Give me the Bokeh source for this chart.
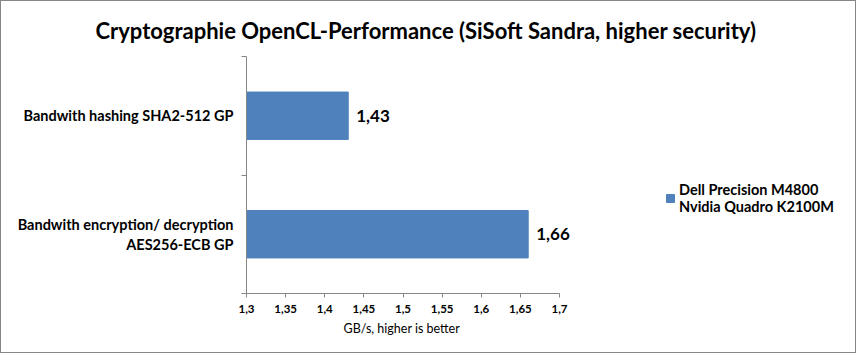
from bokeh.plotting import figure
from bokeh.models import (Range1d, FixedTicker, CustomJSTickFormatter, LabelSet,
                          ColumnDataSource, Legend, LegendItem, LinearAxis, Title)
from bokeh.core.properties import value
from bokeh.embed import file_html
from bokeh.resources import INLINE

title = "Cryptographie OpenCL-Performance (SiSoft Sandra, higher security)"
categories = ["Bandwith hashing SHA2-512 GP", "Bandwith encryption/ decryption\nAES256-ECB GP"]
values = [1.43, 1.66]
value_labels = ["1,43", "1,66"]
series_name = "Dell Precision M4800\nNvidia Quadro K2100M"
x_min, x_max, x_step = 1.3, 1.7, 0.05
x_title = "GB/s, higher is better"

BAR = "#4F81BD"
GRAY = "#868686"
FONT = "Lato"

W, H = 856, 353
LEFT, RIGHT, TOP, BOTTOM = 245, 2, 54, 61
AXIS_PX = 313  # pixel length of the drawn value axis
frame_w = W - LEFT - RIGHT
x_end = x_min + (x_max - x_min) * frame_w / AXIS_PX

n = len(categories)
ypos = [i + 0.5 for i in range(n)]
xticks = [round(x_min + k * x_step, 2) for k in range(int(round((x_max - x_min) / x_step)) + 1)]

p = figure(width=W, height=H, output_backend="svg", toolbar_location=None,
           x_range=Range1d(x_min, x_end), y_range=Range1d(n, 0),
           y_axis_location=None,
           min_border_left=LEFT, min_border_right=RIGHT, min_border_top=TOP, min_border_bottom=BOTTOM)
p.styles = {"border": f"1px solid {GRAY}"}
p.outline_line_color = None
p.grid.visible = False
p.background_fill_color = "white"
p.border_fill_color = "white"

src = ColumnDataSource(dict(y=ypos, right=values, lab=value_labels))
r = p.hbar(y="y", right="right", left=x_min, height=0.4, color=BAR, source=src)

p.add_layout(LabelSet(x="right", y="y", text="lab", source=src, x_offset=8,
                      text_baseline="middle", text_font=value(FONT), text_font_style="bold",
                      text_font_size="17px", text_color="black"))

# x axis
xa = p.xaxis[0]
xa.bounds = (x_min, x_max)
xa.ticker = FixedTicker(ticks=xticks)
xa.formatter = CustomJSTickFormatter(code="return tick.toFixed(2).replace(/0+$/,'').replace(/\\.$/,'').replace('.',',');")
xa.axis_line_color = GRAY
xa.major_tick_line_color = GRAY
xa.major_tick_out = 4
xa.major_tick_in = 0
xa.minor_tick_line_color = None
xa.major_label_text_font = FONT
xa.major_label_text_font_style = "bold"
xa.major_label_text_font_size = "11.5px"
xa.major_label_text_color = "black"
xa.major_label_standoff = 7

# x axis title under the drawn axis
p.add_layout(Title(text=x_title, align="left", offset=97,
                   text_font=FONT, text_font_style="normal", text_font_size="12.5px",
                   text_color="black", standoff=6), "below")

# y axis: boundary ticks (no labels)
ta = LinearAxis(ticker=FixedTicker(ticks=list(range(n + 1))),
                major_label_overrides={k: "" for k in range(n + 1)})
ta.axis_line_color = GRAY
ta.major_tick_line_color = GRAY
ta.major_tick_out = 5
ta.major_tick_in = 0
ta.minor_tick_line_color = None
ta.major_label_text_color = None
ta.major_label_standoff = 0
p.add_layout(ta, "left")

# y axis: category labels at category centres
ca = LinearAxis(ticker=FixedTicker(ticks=ypos),
                major_label_overrides={y: c for y, c in zip(ypos, categories)})
ca.axis_line_color = None
ca.major_tick_line_color = None
ca.major_tick_out = 0
ca.major_tick_in = 0
ca.minor_tick_line_color = None
ca.major_label_standoff = 8
ca.major_label_text_font = FONT
ca.major_label_text_font_style = "bold"
ca.major_label_text_font_size = "14.5px"
ca.major_label_text_color = "black"
ca.major_label_text_line_height = 1.2
p.add_layout(ca, "left")

# title
p.title.text = title
p.title.align = "left"
p.title.offset = -151
p.title.text_font = FONT
p.title.text_font_style = "bold"
p.title.text_font_size = "22px"
p.title.text_color = "black"
p.title.standoff = 26

legend = Legend(items=[LegendItem(label=series_name, renderers=[r])],
                location=(419, 78), padding=0, margin=0, border_line_color=None,
                background_fill_alpha=0, glyph_width=10, glyph_height=10, label_standoff=4,
                label_text_font=FONT, label_text_font_style="bold", label_text_font_size="14.5px",
                label_text_color="black", label_text_line_height=1.4)
p.add_layout(legend, "center")

open("out.html", "w").write(file_html(p, INLINE))
